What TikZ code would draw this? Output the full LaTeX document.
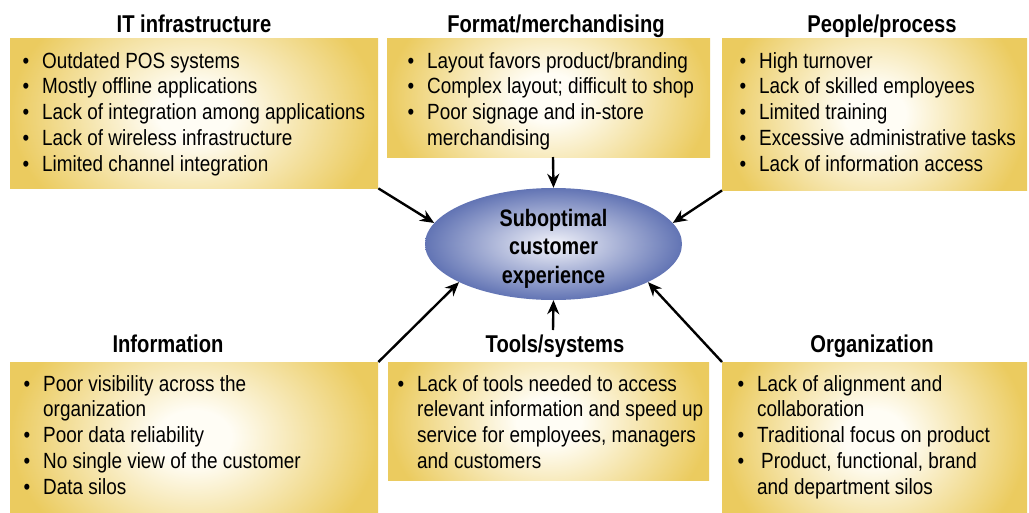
\documentclass[tikz,border=0pt]{standalone}
\usepackage{fontspec}
\setmainfont{Liberation Sans}[FakeStretch=0.86,BoldFeatures={FakeStretch=0.83}]
\usetikzlibrary{arrows.meta,calc,shapes.geometric}
\definecolor{boxgold}{RGB}{235,203,95}
\definecolor{boxcream}{RGB}{255,253,245}
\definecolor{ellout}{RGB}{98,116,180}
\definecolor{ellin}{RGB}{242,243,250}
\pgfdeclareradialshading{goldshade}{\pgfpoint{0bp}{0bp}}{color(0bp)=(boxcream); color(5bp)=(boxcream); color(25bp)=(boxgold); color(50bp)=(boxgold)}
\newcommand\bl{\llap{\textbullet\hspace{13pt}}}
\begin{document}
\begin{tikzpicture}[x=1pt,y=-1pt,
  box/.style={rectangle, anchor=north west, inner sep=0pt, draw=none,
    path picture={\shade[shading=goldshade] ($(path picture bounding box.north west)+(0,-60)$) rectangle ($(path picture bounding box.south east)+(0,60)$);}},
  items/.style={anchor=base west, inner sep=0pt, font=\fontsize{22}{25.8}\selectfont},
  title/.style={anchor=base, inner sep=0pt, font=\bfseries\fontsize{24.3}{28}\selectfont},
  arr/.style={-{Stealth[length=14pt,width=12pt]}, line width=2.4pt, black}
]
\useasboundingbox (0,0) rectangle (1029,512);

% boxes
\node[box, minimum width=368, minimum height=150] (it) at (10,38) {};
\node[box, minimum width=323, minimum height=119] (fm) at (387,38) {};
\node[box, minimum width=305, minimum height=152] (pp) at (722,38) {};
\node[box, minimum width=368, minimum height=150] (info) at (10,362) {};
\node[box, minimum width=321, minimum height=118] (tools) at (388,362) {};
\node[box, minimum width=305, minimum height=150] (org) at (722,362) {};

% titles
\node[title] (itT) at (194,32) {IT infrastructure};
\node[title] (fmT) at (556,32) {Format/merchandising};
\node[title] (ppT) at (882,32) {People/process};
\node[title] (infoT) at (168,352) {Information};
\node[title] (toolsT) at (555,352) {Tools/systems};
\node[title] (orgT) at (872,352) {Organization};

% items
\node[items] (itL) at (42,68) {\begin{tabular}[t]{@{}l@{}}
\bl Outdated POS systems\\
\bl Mostly offline applications\\
\bl Lack of integration among applications\\
\bl Lack of wireless infrastructure\\
\bl Limited channel integration\end{tabular}};
\node[items] (fmL) at (427,68) {\begin{tabular}[t]{@{}l@{}}
\bl Layout favors product/branding\\
\bl Complex layout; difficult to shop\\
\bl Poor signage and in-store\\
merchandising\end{tabular}};
\node[items] (ppL) at (759,68) {\begin{tabular}[t]{@{}l@{}}
\bl High turnover\\
\bl Lack of skilled employees\\
\bl Limited training\\
\bl Excessive administrative tasks\\
\bl Lack of information access\end{tabular}};
\node[items] (infoL) at (43,391) {\begin{tabular}[t]{@{}l@{}}
\bl Poor visibility across the\\
organization\\
\bl Poor data reliability\\
\bl No single view of the customer\\
\bl Data silos\end{tabular}};
\node[items] (toolsL) at (417,391) {\begin{tabular}[t]{@{}l@{}}
\bl Lack of tools needed to access\\
relevant information and speed up\\
service for employees, managers\\
and customers\end{tabular}};
\node[items] (orgL) at (757,391) {\begin{tabular}[t]{@{}l@{}}
\bl Lack of alignment and\\
collaboration\\
\bl Traditional focus on product\\
\bl\hspace{4pt}Product, functional, brand\\
and department silos\end{tabular}};

% center ellipse
\node[ellipse, minimum width=257, minimum height=112, inner sep=0pt, draw=none,
  shading=radial, inner color=ellin, outer color=ellout] (ell) at (553.5,244) {};
\node[anchor=base, inner sep=0pt, font=\bfseries\fontsize{23.8}{28.5}\selectfont] (ellT) at (553.5,226)
  {\begin{tabular}[t]{@{}c@{}}Suboptimal\\customer\\experience\end{tabular}};

% arrows
\coordinate (topstart) at (553,157);
\coordinate (botstart) at (553,330);
\draw[arr] (it.south east) -- (ell.170);
\draw[arr] (topstart) -- (ell.90);
\draw[arr] (pp.south west) -- (ell.10);
\draw[arr] (info.north east) -- (ell.202);
\draw[arr] (botstart) -- (ell.270);
\draw[arr] (org.north west) -- (ell.338);
\end{tikzpicture}
\end{document}
